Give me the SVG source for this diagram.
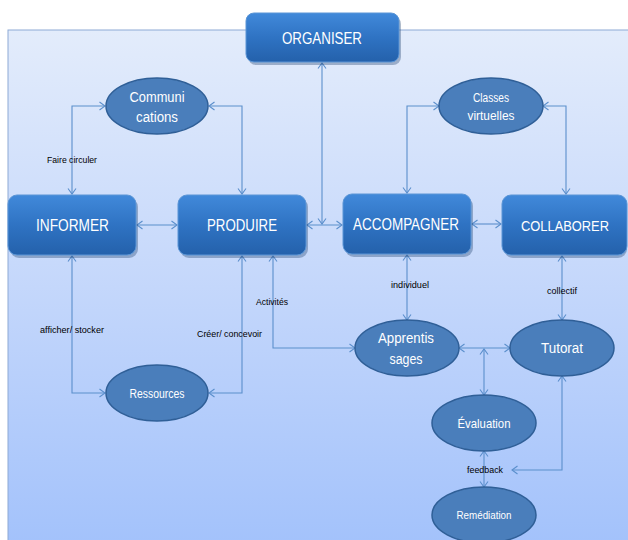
<svg xmlns="http://www.w3.org/2000/svg" width="628" height="540" viewBox="0 0 628 540">
<defs>
<linearGradient id="bg" x1="0" y1="0" x2="0" y2="1">
<stop offset="0" stop-color="#e3ecfb"/>
<stop offset="0.5" stop-color="#c4d7fb"/>
<stop offset="1" stop-color="#a3c2fb"/>
</linearGradient>
<linearGradient id="box" x1="0" y1="0" x2="0" y2="1">
<stop offset="0" stop-color="#4189da"/>
<stop offset="0.5" stop-color="#2f73c3"/>
<stop offset="1" stop-color="#2461ab"/>
</linearGradient>
<marker id="ar" markerUnits="userSpaceOnUse" markerWidth="10" markerHeight="10" refX="5.5" refY="4" orient="auto-start-reverse" overflow="visible">
<path d="M0,0 L5.5,4 L0,8" fill="none" stroke="#5b8fcc" stroke-width="1.1"/>
</marker>
</defs>
<style>
.bx{fill:url(#box);stroke:#5a95d6;stroke-width:1}
.sh{fill:#1d3f6e;opacity:0.35}
.el{fill:#4a7ebb;stroke:#2f5f97;stroke-width:1.5}
.bt{font-family:"Liberation Sans",Arial,sans-serif;font-size:16px;fill:#fff;text-anchor:middle}
.et{font-family:"Liberation Sans",Arial,sans-serif;font-size:14px;fill:#fff;text-anchor:middle}
.lb{font-family:"Liberation Sans",Arial,sans-serif;font-size:9px;fill:#000;text-anchor:middle}
.cn path{fill:none;stroke:#5b8fcc;stroke-width:1.1;marker-start:url(#ar);marker-end:url(#ar)}
</style>
<rect x="8" y="30" width="625" height="515" fill="url(#bg)" stroke="#8eaad6" stroke-width="1"/>

<g id="connectors" class="cn">
<path d="M72,194 V106 H105"/>
<path d="M209,106 H242 V194"/>
<path d="M137,225 H177"/>
<path d="M307,225 H342"/>
<path d="M322,63 V224"/>
<path d="M439,106 H407 V193"/>
<path d="M543,106 H566 V194"/>
<path d="M472,224 H501"/>
<path d="M72,256 V393 H105"/>
<path d="M242,256 V393 H209"/>
<path d="M273,256 V348 H355"/>
<path d="M407,255 V320"/>
<path d="M562,256 V320"/>
<path d="M459,348 H510"/>
<path d="M484,349 V395"/>
<path d="M484,451 V487"/>
<path d="M562,376 V470 H512"/>
</g>

<g id="labels">
<text class="lb" x="72" y="163" textLength="50" lengthAdjust="spacingAndGlyphs">Faire circuler</text>
<text class="lb" x="72" y="333" textLength="64" lengthAdjust="spacingAndGlyphs">afficher/ stocker</text>
<text class="lb" x="229.5" y="337" textLength="65" lengthAdjust="spacingAndGlyphs">Créer/ concevoir</text>
<text class="lb" x="272" y="305" textLength="32" lengthAdjust="spacingAndGlyphs">Activités</text>
<text class="lb" x="410" y="288" textLength="38" lengthAdjust="spacingAndGlyphs">individuel</text>
<text class="lb" x="562" y="294" textLength="30" lengthAdjust="spacingAndGlyphs">collectif</text>
<text class="lb" x="485" y="473" textLength="36" lengthAdjust="spacingAndGlyphs">feedback</text>
</g>

<g id="organiser">
<rect class="sh" x="248" y="16" width="153" height="49" rx="8"/>
<rect class="bx" x="246" y="13" width="153" height="49" rx="8"/>
<text class="bt" x="322" y="44" textLength="80" lengthAdjust="spacingAndGlyphs">ORGANISER</text>
</g>
<g id="informer">
<rect class="sh" x="10" y="198" width="128" height="60" rx="9"/>
<rect class="bx" x="8" y="195" width="128" height="60" rx="9"/>
<text class="bt" x="72.5" y="231" textLength="73" lengthAdjust="spacingAndGlyphs">INFORMER</text>
</g>
<g id="produire">
<rect class="sh" x="180" y="198" width="128" height="60" rx="9"/>
<rect class="bx" x="178" y="195" width="128" height="60" rx="9"/>
<text class="bt" x="242" y="231" textLength="70" lengthAdjust="spacingAndGlyphs">PRODUIRE</text>
</g>
<g id="accompagner">
<rect class="sh" x="345" y="197" width="128" height="60" rx="9"/>
<rect class="bx" x="343" y="194" width="128" height="60" rx="9"/>
<text class="bt" x="406" y="230" textLength="106" lengthAdjust="spacingAndGlyphs">ACCOMPAGNER</text>
</g>
<g id="collaborer">
<rect class="sh" x="504" y="198" width="123" height="60" rx="9"/>
<rect class="bx" x="502" y="195" width="125" height="60" rx="9"/>
<text class="bt" x="565" y="231" style="font-size:14px" textLength="88" lengthAdjust="spacingAndGlyphs">COLLABORER</text>
</g>

<g id="communications">
<ellipse class="el" cx="157" cy="106" rx="51" ry="28"/>
<text class="et" x="157" y="102" textLength="55" lengthAdjust="spacingAndGlyphs">Communi</text>
<text class="et" x="157" y="122" textLength="42" lengthAdjust="spacingAndGlyphs">cations</text>
</g>
<g id="classes">
<ellipse class="el" cx="491" cy="106" rx="52" ry="28"/>
<text class="et" x="491" y="102" style="font-size:12px" textLength="36" lengthAdjust="spacingAndGlyphs">Classes</text>
<text class="et" x="491" y="120" style="font-size:12px" textLength="47" lengthAdjust="spacingAndGlyphs">virtuelles</text>
</g>
<g id="ressources">
<ellipse class="el" cx="157" cy="393" rx="51" ry="28"/>
<text class="et" x="157" y="398" style="font-size:12.5px" textLength="55" lengthAdjust="spacingAndGlyphs">Ressources</text>
</g>
<g id="apprentissages">
<ellipse class="el" cx="407" cy="348" rx="52" ry="28"/>
<text class="et" x="406" y="343" textLength="56" lengthAdjust="spacingAndGlyphs">Apprentis</text>
<text class="et" x="406" y="364" textLength="33" lengthAdjust="spacingAndGlyphs">sages</text>
</g>
<g id="tutorat">
<ellipse class="el" cx="562" cy="348" rx="52" ry="28"/>
<text class="et" x="562" y="353" textLength="42" lengthAdjust="spacingAndGlyphs">Tutorat</text>
</g>
<g id="evaluation">
<ellipse class="el" cx="484" cy="423" rx="52" ry="28"/>
<text class="et" x="484" y="428" style="font-size:13px" textLength="53" lengthAdjust="spacingAndGlyphs">Évaluation</text>
</g>
<g id="remediation">
<ellipse class="el" cx="484" cy="515" rx="52" ry="28"/>
<text class="et" x="484" y="519" style="font-size:11.5px" textLength="55" lengthAdjust="spacingAndGlyphs">Remédiation</text>
</g>
</svg>
